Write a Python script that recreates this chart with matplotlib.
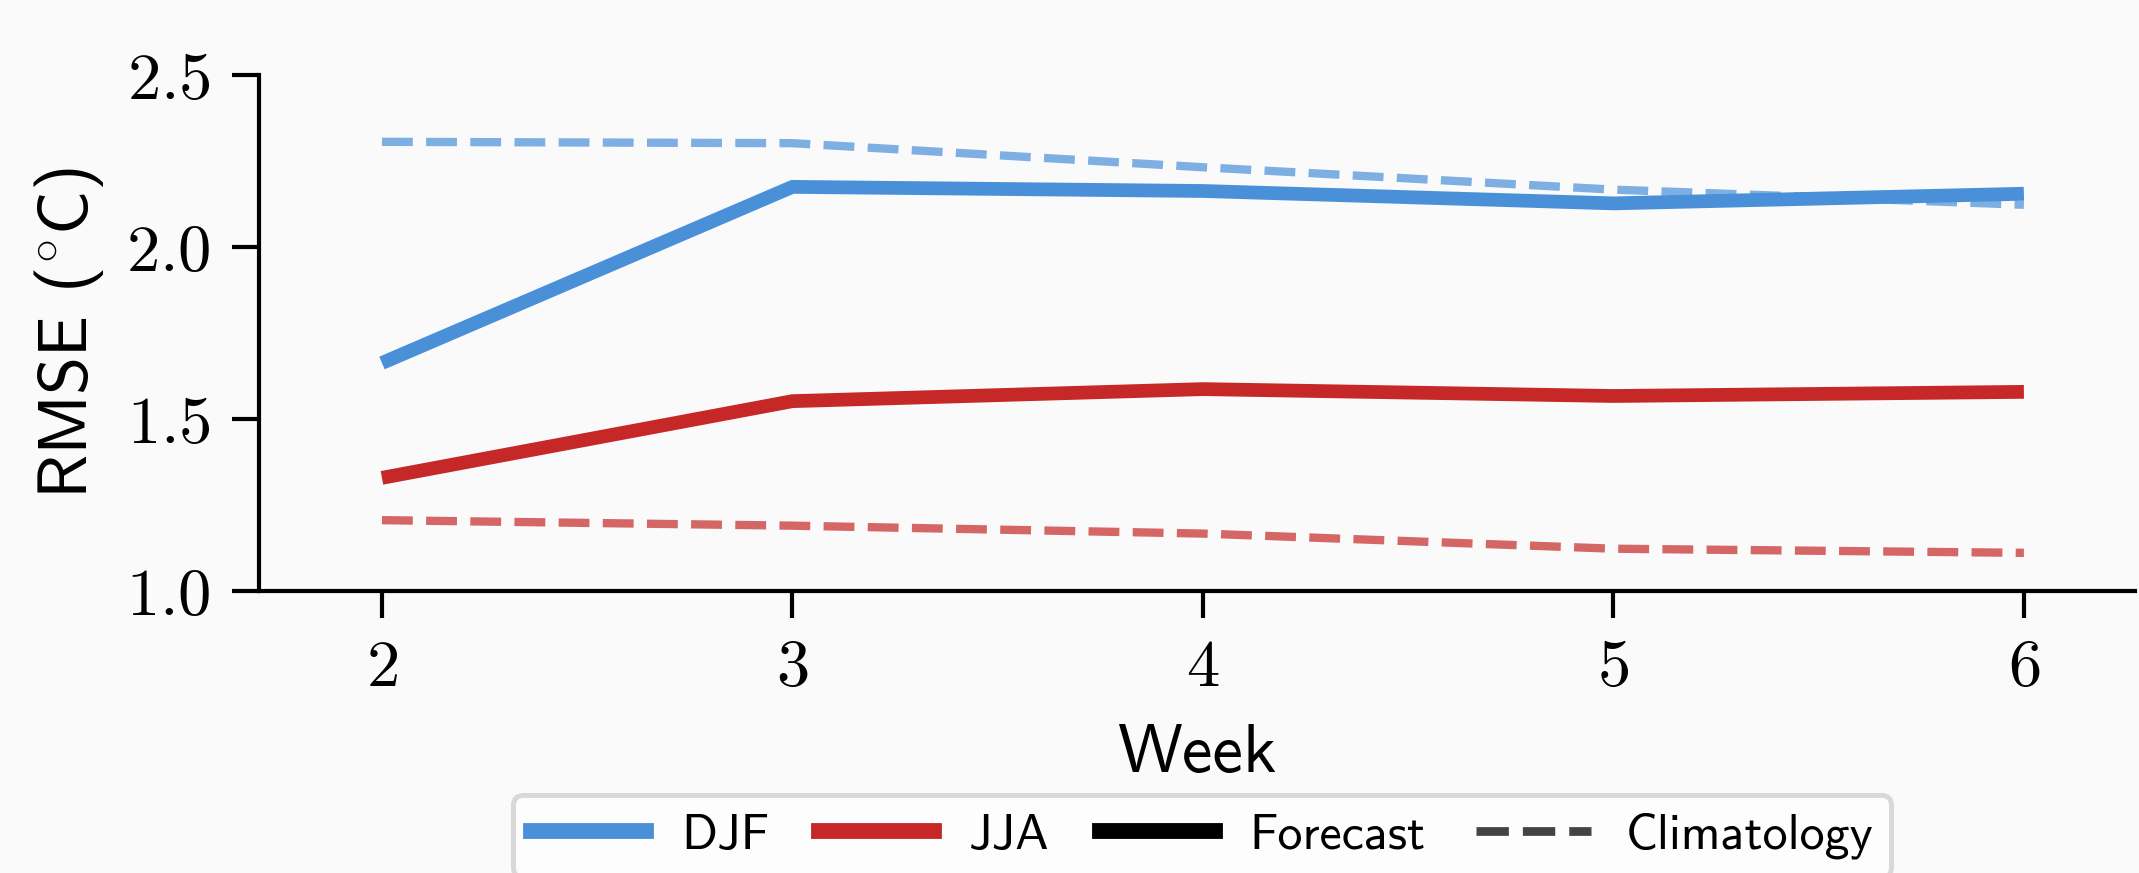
"""RMSE vs lead week for DJF / JJA forecasts against climatology."""
import matplotlib.pyplot as plt
from matplotlib.lines import Line2D

weeks = [2, 3, 4, 5, 6]
djf_forecast = [1.663, 2.175, 2.163, 2.127, 2.155]
djf_clim = [2.306, 2.302, 2.232, 2.167, 2.123]
jja_forecast = [1.329, 1.552, 1.587, 1.567, 1.579]
jja_clim = [1.206, 1.190, 1.167, 1.123, 1.111]

yticks = [1.0, 1.5, 2.0, 2.5]

BLUE = "#4a90d9"
RED = "#c62828"
BG = "#fafafa"

plt.rcParams["mathtext.fontset"] = "cm"
plt.rcParams["font.family"] = ["cmss10", "DejaVu Sans"]
plt.rcParams["axes.unicode_minus"] = False

fig = plt.figure(figsize=(2139 / 300, 873 / 300), dpi=300, facecolor=BG)
ax = fig.add_axes([0.121, 0.323, 0.877, 0.591])
ax.set_facecolor(BG)

ax.plot(weeks, djf_forecast, color=BLUE, lw=3.3, solid_capstyle="butt")
ax.plot(weeks, djf_clim, color=BLUE, lw=2.0, ls="--", alpha=0.7)
ax.plot(weeks, jja_forecast, color=RED, lw=3.3, solid_capstyle="butt")
ax.plot(weeks, jja_clim, color=RED, lw=2.0, ls="--", alpha=0.7)

ax.set_xlim(1.7, 6.27)
ax.set_ylim(1.0, 2.5)
ax.set_xticks(weeks)
ax.set_xticklabels([f"${w}$" for w in weeks])
ax.set_yticks(yticks)
ax.set_yticklabels([f"${v:.1f}$" for v in yticks])
ax.tick_params(labelsize=16, length=6.5, width=1.0)
ax.tick_params(axis="x", pad=5)
ax.tick_params(axis="y", pad=5)

for side in ("top", "right"):
    ax.spines[side].set_visible(False)
for side in ("left", "bottom"):
    ax.spines[side].set_linewidth(1.0)

ax.set_xlabel("Week", fontsize=16.5, labelpad=6)
ax.set_ylabel(r"RMSE ($^{\circ}$C)", fontsize=16.5, labelpad=5)

handles = [
    Line2D([], [], color=BLUE, lw=3.8),
    Line2D([], [], color=RED, lw=3.8),
    Line2D([], [], color="black", lw=3.8),
    Line2D([], [], color="#444444", lw=2.1, ls="--"),
]
labels = ["DJF", "JJA", "Forecast", "Climatology"]
leg = fig.legend(
    handles, labels, loc="upper center", bbox_to_anchor=(0.562, 0.089),
    borderaxespad=0, ncol=4, fontsize=12, frameon=True, fancybox=True,
    handlelength=2.3, handletextpad=0.7, columnspacing=1.0, borderpad=0.35,
)
leg.get_frame().set_edgecolor("#d0d0d0")
leg.get_frame().set_linewidth(1.2)
leg.get_frame().set_facecolor("white")

fig.savefig("out.png", dpi=300, facecolor=BG)
